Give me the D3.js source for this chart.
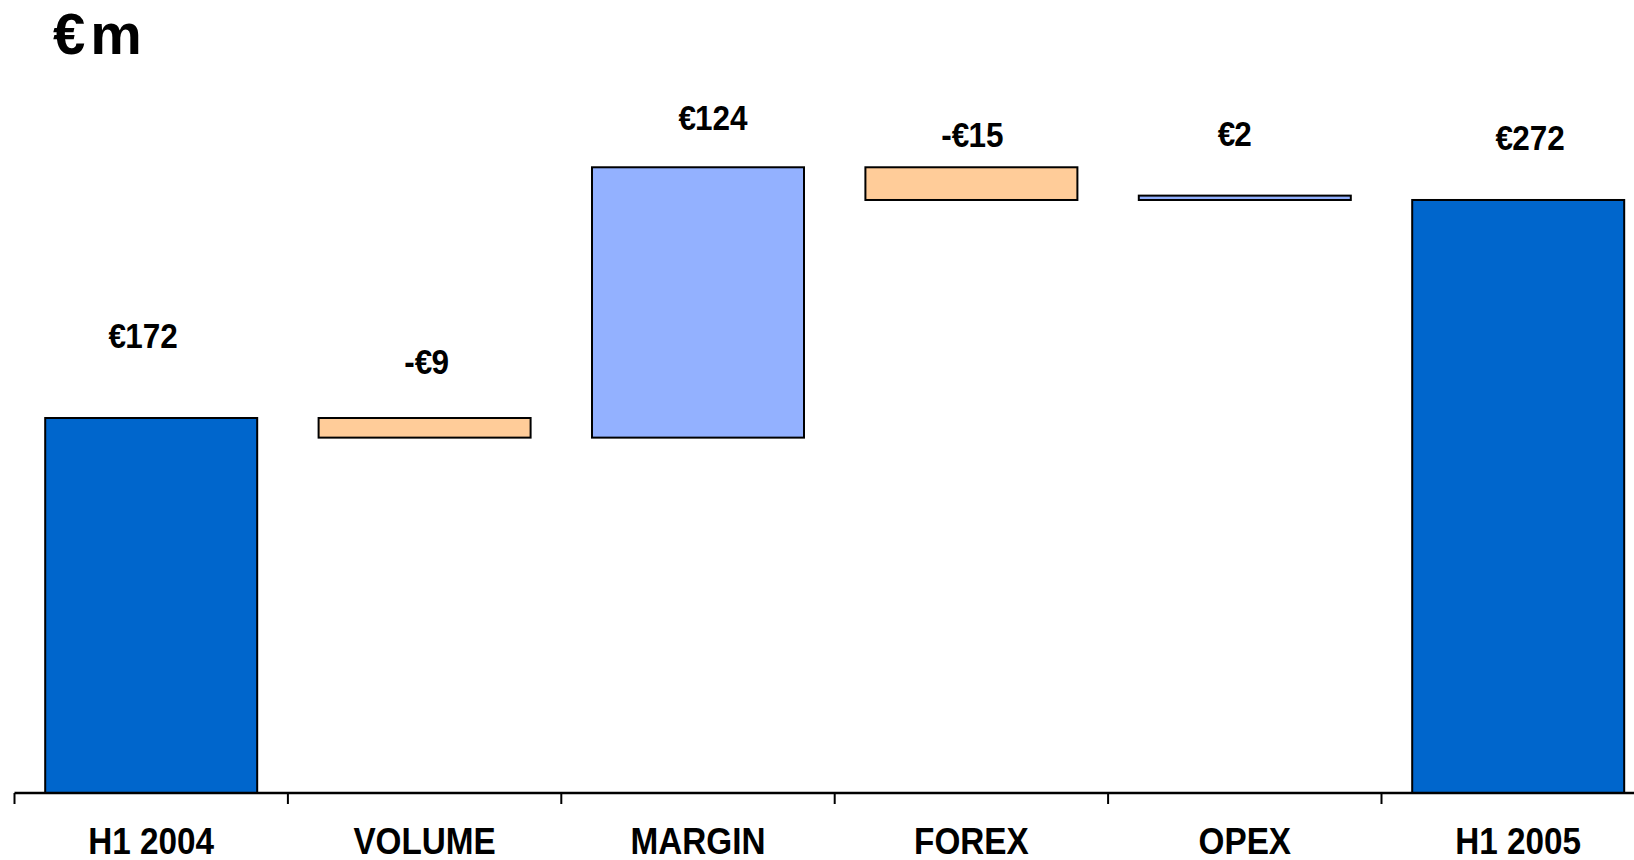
<!DOCTYPE html>
<html>
<head>
<meta charset="utf-8">
<script src="https://cdn.jsdelivr.net/npm/d3@7"></script>
<style>
  html, body { margin: 0; padding: 0; background: #fff; }
  svg { display: block; }
</style>
</head>
<body>
<script>
// H1 2004 → H1 2005 bridge, €m
const categories = ["H1 2004", "VOLUME", "MARGIN", "FOREX", "OPEX", "H1 2005"];
const kinds      = ["total", "delta", "delta", "delta", "delta", "total"];
const values     = [172, -9, 124, -15, 2, 272];

// label placement: horizontal nudge and lift above the bar top (px)
const labelDx   = [-8, 2, 15, 1, -10, 12];
const labelLift = [70, 44, 37, 20, 50, 50];

const W = 1634, H = 860;
const svg = d3.select("body").append("svg").attr("width", W).attr("height", H);

const axisY = 793;
const x = d3.scaleBand()
  .domain(categories)
  .range([14.5, 1654.9])
  .paddingInner(0.2246)
  .paddingOuter(0.1123);
const y = d3.scaleLinear().domain([0, 300]).range([axisY, axisY - 300 * 2.1802]);

// running totals -> bar spans
let running = 0;
const bars = categories.map((c, i) => {
  let lo, hi;
  if (kinds[i] === "total") {
    running = values[i];
    lo = 0; hi = values[i];
  } else {
    const start = running;
    running += values[i];
    lo = Math.min(start, running); hi = Math.max(start, running);
  }
  return { cat: c, kind: kinds[i], value: values[i], lo, hi, i };
});

const fillFor = d => d.kind === "total" ? "#0066CC" : (d.value >= 0 ? "#93B1FF" : "#FFCC99");

svg.append("g").selectAll("rect").data(bars).join("rect")
  .attr("x", d => x(d.cat))
  .attr("width", x.bandwidth())
  .attr("y", d => y(d.hi))
  .attr("height", d => Math.max(1, y(d.lo) - y(d.hi)))
  .attr("fill", fillFor)
  .attr("stroke", "#000")
  .attr("stroke-width", 2);

// category axis with ticks on band boundaries
const step = x.step();
const x0 = x.range()[0];
const axisG = svg.append("g");
axisG.append("line")
  .attr("x1", x0).attr("x2", W)
  .attr("y1", axisY).attr("y2", axisY)
  .attr("stroke", "#000").attr("stroke-width", 2.5);
axisG.selectAll("line.tick").data(d3.range(categories.length + 1)).join("line")
  .attr("class", "tick")
  .attr("x1", k => x0 + k * step).attr("x2", k => x0 + k * step)
  .attr("y1", axisY).attr("y2", axisY + 11)
  .attr("stroke", "#000").attr("stroke-width", 2);

const font = "'Liberation Sans', Arial, sans-serif";
const cx = d => x(d.cat) + x.bandwidth() / 2;

svg.append("g").selectAll("text").data(bars).join("text")
  .attr("transform", d => `translate(${cx(d)},854) scale(0.9,1)`)
  .attr("text-anchor", "middle")
  .attr("font-family", font)
  .attr("font-weight", "bold")
  .attr("font-size", 37)
  .attr("fill", "#000")
  .text(d => d.cat);

// value labels
const vl = svg.append("g").selectAll("text").data(bars).join("text")
  .attr("transform", d => `translate(${cx(d) + labelDx[d.i]},${y(d.hi) - labelLift[d.i]}) scale(0.9,1)`)
  .attr("text-anchor", "middle")
  .attr("font-family", font)
  .attr("font-weight", "bold")
  .attr("font-size", 35)
  .attr("fill", "#000");
vl.append("tspan").text(d => (d.value < 0 ? "-" : "") + "\u20AC");
vl.append("tspan").attr("dx", -1).text(d => Math.abs(d.value));

// unit title
svg.append("text")
  .attr("x", 53).attr("y", 54)
  .attr("font-family", font)
  .attr("font-weight", "bold")
  .attr("font-size", 58)
  .attr("letter-spacing", 5)
  .attr("fill", "#000")
  .text("\u20ACm");
</script>
</body>
</html>
